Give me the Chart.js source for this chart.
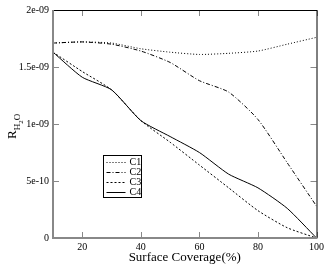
<!DOCTYPE html>
<html>
<head>
<meta charset="utf-8">
<script src="https://cdn.jsdelivr.net/npm/chart.js@4/dist/chart.umd.min.js"></script>
<style>
  html, body { margin: 0; padding: 0; background: #fff; }
  #wrap { width: 327px; height: 265px; }
</style>
</head>
<body>
<div id="wrap"><canvas id="chart"></canvas></div>
<script>
// data
const coverage = [10, 20, 30, 40, 50, 60, 70, 80, 90, 100];
const c1 = [1.71e-9, 1.72e-9, 1.71e-9, 1.66e-9, 1.63e-9, 1.61e-9, 1.62e-9, 1.64e-9, 1.70e-9, 1.76e-9];
const c2 = [1.71e-9, 1.72e-9, 1.70e-9, 1.64e-9, 1.54e-9, 1.38e-9, 1.28e-9, 1.04e-9, 0.66e-9, 0.28e-9];
const c3 = [1.63e-9, 1.46e-9, 1.30e-9, 1.03e-9, 0.84e-9, 0.64e-9, 0.44e-9, 0.24e-9, 0.09e-9, 0];
const c4 = [1.63e-9, 1.41e-9, 1.30e-9, 1.03e-9, 0.89e-9, 0.75e-9, 0.56e-9, 0.44e-9, 0.26e-9, 0];
const seriesNames = ["C1", "C2", "C3", "C4"];
const seriesDash = [[1, 2], [4, 2, 1, 2], [2, 2], []];

const xTicks = [20, 40, 60, 80, 100];
const yTicks = [0, 5e-10, 1e-9, 1.5e-9, 2e-9];
const yTickLabels = ["0", "5e-10", "1e-09", "1.5e-09", "2e-09"];

const serif = "'Liberation Serif', 'DejaVu Serif', serif";

function toPoints(ys) {
  return coverage.map((x, i) => ({ x: x, y: ys[i] }));
}

const datasets = [c1, c2, c3, c4].map((ys, i) => ({
  label: seriesNames[i],
  data: toPoints(ys),
  borderColor: "#000",
  borderWidth: 1,
  borderDash: seriesDash[i],
  pointRadius: 0,
  fill: false,
  tension: 0.2,
}));

// frame, inward ticks, y title with subscript, inner legend
const decor = {
  id: "decor",
  afterDraw(chart) {
    const ctx = chart.ctx;
    const a = chart.chartArea;
    const xs = chart.scales.x;
    const ys = chart.scales.y;
    ctx.save();

    // ticks, all four sides
    ctx.strokeStyle = "#888";
    ctx.lineWidth = 1;
    ctx.beginPath();
    xTicks.forEach((v) => {
      const px = Math.round(xs.getPixelForValue(v)) + 0.5;
      ctx.moveTo(px, a.bottom); ctx.lineTo(px, a.bottom - 6);
      ctx.moveTo(px, a.top); ctx.lineTo(px, a.top + 6);
    });
    yTicks.forEach((v) => {
      const py = Math.round(ys.getPixelForValue(v)) + 0.5;
      ctx.moveTo(a.left, py); ctx.lineTo(a.left + 6, py);
      ctx.moveTo(a.right, py); ctx.lineTo(a.right - 6, py);
    });
    ctx.stroke();

    // frame: left/bottom gray and thicker, top/right thin dark
    ctx.strokeStyle = "#000";
    ctx.lineWidth = 1;
    ctx.beginPath();
    ctx.moveTo(a.left, a.top + 0.5); ctx.lineTo(a.right + 0.5, a.top + 0.5);
    ctx.lineTo(a.right + 0.5, a.bottom);
    ctx.stroke();
    ctx.strokeStyle = "#888";
    ctx.lineWidth = 2;
    ctx.beginPath();
    ctx.moveTo(a.left, a.top); ctx.lineTo(a.left, a.bottom);
    ctx.lineTo(a.right + 1, a.bottom);
    ctx.stroke();

    // y axis title R_{H2O}
    ctx.fillStyle = "#000";
    ctx.translate(16, 121);
    ctx.rotate(-Math.PI / 2);
    ctx.textBaseline = "alphabetic";
    ctx.textAlign = "left";
    ctx.font = "13px " + serif;
    const startX = -18;
    ctx.fillText("R", startX, 0);
    let cx = startX + ctx.measureText("R").width;
    ctx.font = "9px " + serif;
    ctx.fillText("H", cx, 4);
    cx += ctx.measureText("H").width;
    ctx.font = "7px " + serif;
    ctx.fillText("2", cx, 7);
    cx += ctx.measureText("2").width;
    ctx.font = "9px " + serif;
    ctx.fillText("O", cx, 4);
    ctx.setTransform(1, 0, 0, 1, 0, 0);

    // legend box
    const bx = 103.5, by = 155.5, bw = 38, bh = 42;
    ctx.fillStyle = "#fff";
    ctx.fillRect(bx, by, bw, bh);
    ctx.strokeStyle = "#000";
    ctx.lineWidth = 1;
    ctx.strokeRect(bx, by, bw, bh);
    ctx.font = "10px " + serif;
    ctx.textBaseline = "middle";
    ctx.fillStyle = "#000";
    seriesNames.forEach((name, i) => {
      const ly = Math.round(by + 6 + i * 10) + 0.5;
      ctx.setLineDash(seriesDash[i]);
      ctx.beginPath();
      ctx.moveTo(bx + 3, ly); ctx.lineTo(bx + 22, ly);
      ctx.stroke();
      ctx.setLineDash([]);
      ctx.fillText(name, bx + 26, ly);
    });
    ctx.restore();
  },
};

new Chart(document.getElementById("chart"), {
  type: "line",
  data: { datasets: datasets },
  options: {
    responsive: true,
    maintainAspectRatio: false,
    animation: false,
    layout: { padding: { left: 0, right: 8, top: 4, bottom: 0 } },
    plugins: { legend: { display: false }, tooltip: { enabled: false } },
    scales: {
      x: {
        type: "linear",
        min: 10,
        max: 100,
        afterBuildTicks: (s) => { s.ticks = xTicks.map((v) => ({ value: v })); },
        afterFit: (s) => { s.height = 27; },
        grid: { display: false, drawTicks: false },
        border: { display: false },
        ticks: {
          color: "#000",
          padding: 3,
          maxRotation: 0,
          font: { family: serif, size: 10 },
        },
        title: {
          display: true,
          text: "Surface Coverage(%)",
          color: "#000",
          padding: { top: -2, bottom: 0 },
          font: { family: serif, size: 13 },
        },
      },
      y: {
        min: 0,
        max: 2e-9,
        afterBuildTicks: (s) => { s.ticks = yTicks.map((v) => ({ value: v })); },
        afterFit: (s) => { s.width = 53; },
        grid: { display: false, drawTicks: false },
        border: { display: false },
        ticks: {
          color: "#000",
          padding: 4,
          font: { family: serif, size: 10 },
          callback: (v) => yTickLabels[yTicks.indexOf(v)],
        },
      },
    },
  },
  plugins: [decor],
});
</script>
</body>
</html>
